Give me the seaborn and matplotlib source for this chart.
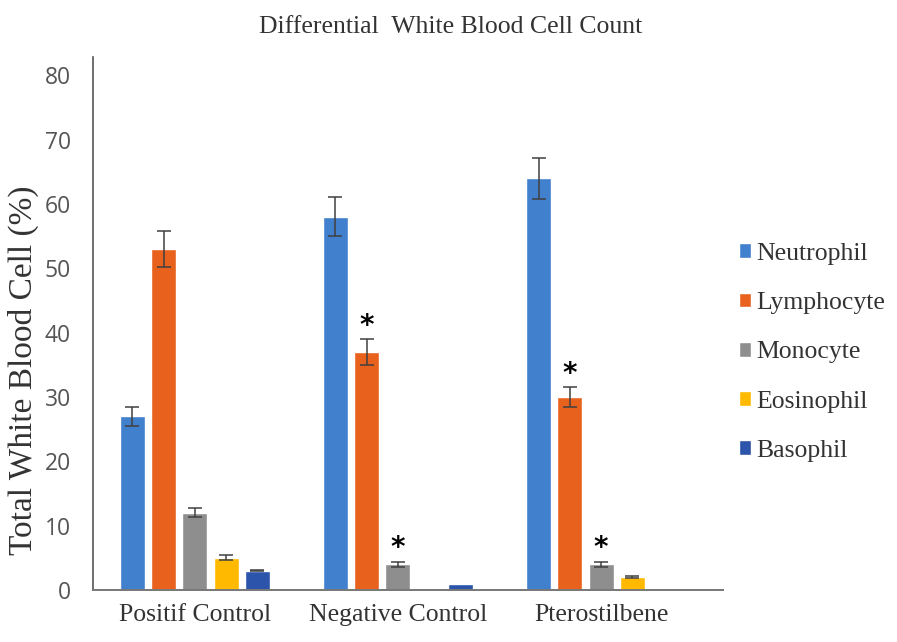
import pandas as pd
import matplotlib
matplotlib.use("Agg")
import matplotlib.pyplot as plt
import seaborn as sns

# Data
groups = ["Positif Control", "Negative Control", "Pterostilbene"]
cells = ["Neutrophil", "Lymphocyte", "Monocyte", "Eosinophil", "Basophil"]

neutrophil = [27, 58, 64]
lymphocyte = [53, 37, 30]
monocyte = [12, 4, 4]
eosinophil = [5, 0, 2]
basophil = [3, 1, 0]

neutrophil_err = [1.5, 3.0, 3.2]
lymphocyte_err = [2.8, 2.0, 1.5]
monocyte_err = [0.7, 0.4, 0.4]
eosinophil_err = [0.4, 0.0, 0.2]
basophil_err = [0.1, 0.0, 0.0]

# significance markers (*)
neutrophil_sig = [False, False, False]
lymphocyte_sig = [False, True, True]
monocyte_sig = [False, True, True]
eosinophil_sig = [False, False, False]
basophil_sig = [False, False, False]

colors = ["#4080CC", "#E8621E", "#8E8E8E", "#FFBA00", "#2B54AA"]

values = [neutrophil, lymphocyte, monocyte, eosinophil, basophil]
errors = [neutrophil_err, lymphocyte_err, monocyte_err, eosinophil_err, basophil_err]
sigs = [neutrophil_sig, lymphocyte_sig, monocyte_sig, eosinophil_sig, basophil_sig]

rows = []
for cell, vals in zip(cells, values):
    for grp, v in zip(groups, vals):
        rows.append({"Group": grp, "Cell": cell, "Value": v})
df = pd.DataFrame(rows)

sns.set_style("white")
plt.rcParams["font.family"] = ["Liberation Serif", "DejaVu Serif"]

fig = plt.figure(figsize=(8.97, 6.42), dpi=100)
ax = fig.add_axes([0.104, 0.081, 0.702, 0.830])

sns.barplot(
    data=df,
    x="Group",
    y="Value",
    hue="Cell",
    order=groups,
    hue_order=cells,
    palette=colors,
    errorbar=None,
    width=0.77,
    gap=0.2,
    saturation=1,
    ax=ax
)

# error bars and asterisks on top of seaborn's bars (hue-major patch order)
for i, cell in enumerate(cells):
    for j, grp in enumerate(groups):
        patch = ax.patches[i * len(groups) + j]
        xc = patch.get_x() + patch.get_width() / 2
        h = patch.get_height()
        err = errors[i][j]
        if h > 0 and err > 0:
            ax.errorbar(
                xc, h, yerr=err,
                fmt="none",
                ecolor="#404040",
                elinewidth=1.1,
                capsize=5,
                capthick=1.1
            )
        if sigs[i][j]:
            ax.text(
                xc, h + err - 0.1, "*",
                ha="center", va="bottom",
                fontsize=20, fontweight="bold",
                family="DejaVu Sans", color="black"
            )

ax.set_ylim(0, 82.8)
ax.set_xlim(-0.5, 2.6)
ax.set_yticks(range(0, 81, 10))

ax.set_xlabel("")
ax.set_ylabel("Total White Blood Cell (%)", fontsize=24, color="#333333")
ax.yaxis.set_label_coords(-0.087, 0.413)

ax.tick_params(axis="x", length=0, labelsize=18.5, pad=10, labelcolor="#333333")
ax.tick_params(axis="y", length=0, pad=16, labelcolor="#555555")
for lab in ax.get_yticklabels():
    lab.set_family("Open Sans")
    lab.set_fontsize(16.5)

sns.despine(ax=ax)
ax.spines["left"].set_color("#555555")
ax.spines["bottom"].set_color("#777777")
ax.spines["left"].set_linewidth(1.2)
ax.spines["bottom"].set_linewidth(1.4)

fig.suptitle("Differential  White Blood Cell Count", x=0.502, y=0.975,
             fontsize=18.5, color="#333333")

handles, labels = ax.get_legend_handles_labels()
ax.legend(
    handles, labels,
    loc="center left",
    bbox_to_anchor=(0.988, 0.446),
    frameon=False,
    fontsize=18.5,
    handlelength=0.5,
    handleheight=0.5,
    handletextpad=0.2,
    labelspacing=1.06,
    labelcolor="#333333"
)

fig.savefig("out.png", dpi=100)
